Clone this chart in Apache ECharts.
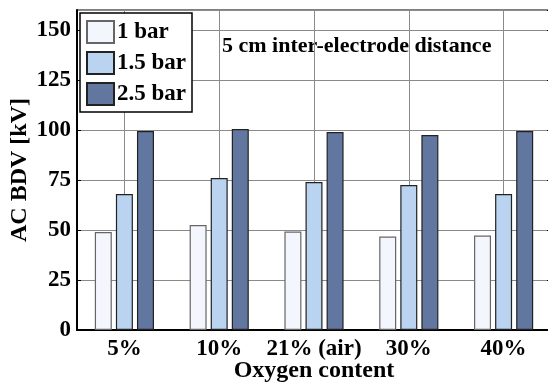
<!DOCTYPE html>
<html>
<head>
<meta charset="utf-8">
<script src="https://cdn.jsdelivr.net/npm/echarts@6/dist/echarts.min.js"></script>
<style>
html,body{margin:0;padding:0;background:#fff}
#chart{width:548px;height:385px}
</style>
</head>
<body>
<div id="chart"></div>
<script>
// oxygen content categories
const categories = ['5%', '10%', '21% (air)', '30%', '40%'];
// AC BDV values [kV] per pressure
const bar1 = [49, 52.5, 49.2, 46.7, 47.2];
const bar15 = [68, 76, 74, 72.5, 68];
const bar25 = [99.5, 100.5, 99, 97.5, 99.5];
const seriesNames = ['1 bar', '1.5 bar', '2.5 bar'];

const font = 'Liberation Serif';

let myChart = echarts.init(document.getElementById('chart'));

// bars sit on a value x axis at the category index
function barSeries(name, data, color, edge) {
    return {
        name: name,
        type: 'bar',
        data: data.map(function (v, i) { return [i, v]; }),
        barWidth: 17,
        barGap: '24%',
        z: 3,
        itemStyle: {
            color: color,
            borderColor: edge,
            borderWidth: 1.2
        }
    };
}

let middle = barSeries(seriesNames[1], bar15, '#b9d3f1', '#222');
// vertical grid lines at the group centres, kept behind the bars
middle.markLine = {
    silent: true,
    z: 1,
    symbol: 'none',
    label: {show: false},
    lineStyle: {color: '#8a8a8a', width: 1, type: 'solid'},
    data: categories.map(function (c, i) { return {xAxis: i}; })
};

let option = {
    animation: false,
    backgroundColor: '#fff',
    grid: {left: 77, width: 474, top: 10, bottom: 55, show: true, borderColor: '#000', borderWidth: 1, outerBoundsMode: 'none', containLabel: false},
    legend: {
        orient: 'vertical',
        left: 80,
        top: 13,
        itemWidth: 27,
        itemHeight: 22,
        itemGap: 7,
        padding: [7, 6, 6, 6],
        borderColor: '#000',
        borderWidth: 1.5,
        backgroundColor: '#fff',
        icon: 'rect',
        textStyle: {fontFamily: font, fontWeight: 'bold', fontSize: 23, color: '#000', padding: [0, 0, 0, -2]},
        data: seriesNames
    },
    graphic: [{
        type: 'text',
        left: 222,
        top: 35,
        style: {text: '5 cm inter-electrode distance', fontFamily: font, fontWeight: 'bold', fontSize: 22, fill: '#000'}
    }],
    xAxis: {
        type: 'value',
        min: -0.5,
        max: 4.5,
        interval: 0.5,
        name: 'Oxygen content',
        nameLocation: 'middle',
        nameGap: 29,
        nameMoveOverlap: false,
        nameTextStyle: {fontFamily: font, fontWeight: 'bold', fontSize: 24, color: '#000'},
        axisLine: {show: true, onZero: false, lineStyle: {color: '#000', width: 2}},
        axisTick: {show: false},
        axisLabel: {
            fontFamily: font, fontWeight: 'bold', fontSize: 23, color: '#000', margin: 8,
            showMinLabel: false, showMaxLabel: false,
            formatter: function (v) { return Number.isInteger(v) ? categories[v] : ''; }
        },
        splitLine: {show: false, lineStyle: {color: 'rgba(0,0,0,0)'}}
    },
    yAxis: [
        {
            type: 'value',
            min: 0,
            max: 160,
            interval: 25,
            name: 'AC BDV [kV]',
            nameLocation: 'middle',
            nameGap: 45,
            nameMoveOverlap: false,
            nameTextStyle: {fontFamily: font, fontWeight: 'bold', fontSize: 24, color: '#000'},
            axisLine: {show: true, onZero: false, lineStyle: {color: '#000', width: 2}},
            axisTick: {show: true, inside: true, length: 4, lineStyle: {color: '#000'}},
            axisLabel: {fontFamily: font, fontWeight: 'bold', fontSize: 23, color: '#000', margin: 6, showMaxLabel: false,
                formatter: function (v) { return v > 150 ? '' : v; }},
            splitLine: {show: true, lineStyle: {color: '#8a8a8a', width: 1}}
        },
        {
            type: 'value',
            min: 0,
            max: 160,
            interval: 25,
            position: 'right',
            axisLine: {show: false, onZero: false},
            axisLabel: {show: false},
            axisTick: {show: true, inside: true, length: 4, lineStyle: {color: '#000'}},
            splitLine: {show: false}
        }
    ],
    series: [
        barSeries(seriesNames[0], bar1, '#f3f6fc', '#666'),
        middle,
        barSeries(seriesNames[2], bar25, '#62779f', '#222')
    ]
};
myChart.setOption(option);
</script>
</body>
</html>
